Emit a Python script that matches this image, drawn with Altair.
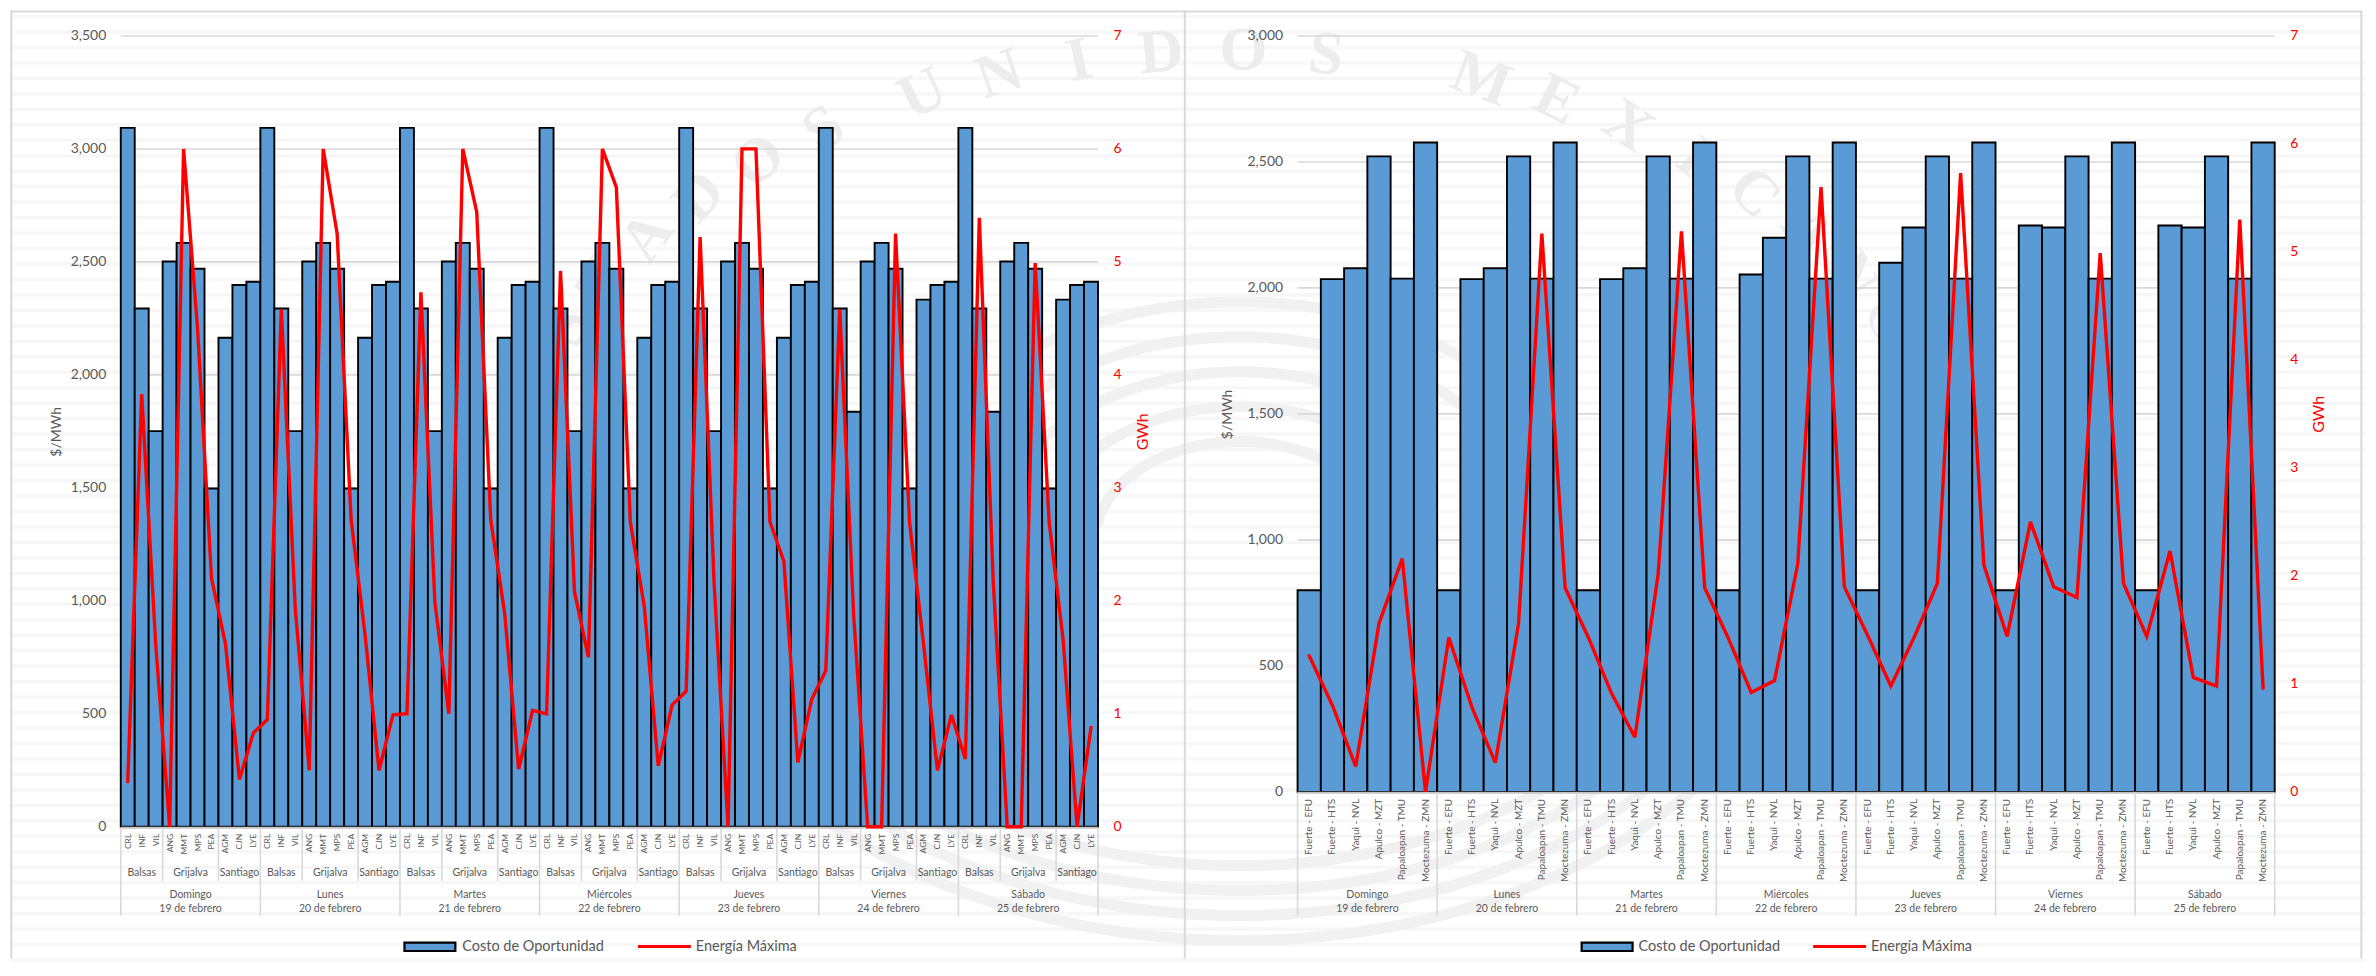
import math
import altair as alt
import pandas as pd

# ---------------- data ----------------
days = ["Domingo", "Lunes", "Martes", "Miércoles", "Jueves", "Viernes", "Sábado"]
dates = ["19 de febrero", "20 de febrero", "21 de febrero", "22 de febrero",
         "23 de febrero", "24 de febrero", "25 de febrero"]

left_codes = ["CRL", "INF", "VIL", "ANG", "MMT", "MPS", "PEA", "AGM", "CJN", "LYE"]
left_groups = [("Balsas", 3), ("Grijalva", 4), ("Santiago", 3)]
left_cost_a = [3093, 2294, 1751, 2502, 2584, 2470, 1497, 2164, 2398, 2412]
left_cost_b = [3093, 2294, 1837, 2502, 2584, 2470, 1497, 2333, 2398, 2412]
left_cost = [left_cost_a] * 5 + [left_cost_b] * 2
left_gwh = [
    0.40, 3.83, 1.62, 0.00, 6.00, 4.41, 2.20, 1.62, 0.42, 0.83,
    0.95, 4.58, 1.93, 0.50, 6.00, 5.25, 2.72, 1.70, 0.50, 0.99,
    1.00, 4.73, 1.99, 1.00, 6.00, 5.44, 2.72, 1.89, 0.51, 1.03,
    1.00, 4.92, 2.08, 1.50, 6.00, 5.66, 2.70, 1.95, 0.54, 1.08,
    1.20, 5.22, 2.16, 0.00, 6.00, 6.00, 2.70, 2.35, 0.57, 1.13,
    1.38, 4.58, 1.87, 0.00, 0.00, 5.25, 2.70, 1.62, 0.50, 0.99,
    0.60, 5.39, 2.16, 0.00, 0.00, 4.99, 2.70, 1.66, 0.00, 0.88,
]

right_codes = ["Fuerte - EFU", "Fuerte - HTS", "Yaqui - NVL", "Apulco - MZT",
               "Papaloapan - TMU", "Moctezuma - ZMN"]
right_cost = [
    [800, 2035, 2078, 2522, 2037, 2577],
    [800, 2035, 2078, 2522, 2037, 2577],
    [800, 2035, 2078, 2522, 2037, 2577],
    [800, 2053, 2199, 2522, 2037, 2577],
    [800, 2100, 2240, 2522, 2037, 2577],
    [800, 2248, 2240, 2522, 2037, 2577],
    [800, 2248, 2240, 2522, 2037, 2577],
]
right_gwh = [
    1.26, 0.80, 0.235, 1.56, 2.16, 0.00,
    1.43, 0.78, 0.27, 1.56, 5.17, 1.89,
    1.43, 0.91, 0.505, 2.02, 5.19, 1.89,
    1.43, 0.92, 1.03, 2.11, 5.60, 1.90,
    1.45, 0.98, 1.43, 1.93, 5.73, 2.10,
    1.44, 2.50, 1.90, 1.80, 4.99, 1.93,
    1.44, 2.23, 1.06, 0.98, 5.30, 0.96,
]

seal_words = ["ESTADOS", "UNIDOS", "MEXICANOS"]

# ---------------- style / layout ----------------
FONT = "Lato"
GRAY = "#595959"
GRID = "#d9d9d9"
BLUE = "#5b9bd5"
RED = "#ff0000"
TOP = 33.5
L_X0, L_X1 = 118.7, 1098.0
R_X0, R_X1 = 1297.3, 2276.5
L_H = 792.5
R_H = 757.5


def build_rows(codes, cost, gwh):
    rows, n = [], len(codes)
    for d in range(len(days)):
        for c in range(n):
            i = d * n + c
            rows.append(dict(start=i, end=i + 1, mid=i + 0.5, code=codes[c],
                             cost=cost[d][c], gwh=gwh[i]))
    return pd.DataFrame(rows)


def panel(codes, cost, gwh, groups, abs_x0, abs_x1, height, y_max, tick_size,
          tick_top, label_pad, title_pad, extra_layers, legend_x):
    n = len(codes)
    total = n * len(days)
    width = abs_x1 - abs_x0
    df = build_rows(codes, cost, gwh)
    xs = alt.Scale(domain=[0, total], nice=False, zero=False)
    cs = alt.Scale(domain=[0, y_max], nice=False)
    gs = alt.Scale(domain=[0, 7], nice=False)
    X = lambda f: alt.X(f, type="quantitative", scale=xs, axis=None)
    px = lambda v: alt.value(v - abs_x0)
    py = lambda v: alt.value(v - TOP)
    base_y = height

    grid = alt.Chart(pd.DataFrame({"g": list(range(500, y_max + 1, 500))})).mark_rule(
        color=GRID, strokeWidth=1.6
    ).encode(x=alt.value(0), x2=alt.value(width),
             y=alt.Y("g:Q", scale=cs, axis=None))

    bars = alt.Chart(df).mark_rect(fill=BLUE, stroke="#000000", strokeWidth=1.9).encode(
        x=X("start"), x2="end",
        y=alt.Y("cost:Q", scale=cs, axis=alt.Axis(
            title="$/MWh", values=list(range(0, y_max + 1, 500)), format=",.0f",
            grid=False, domain=False, ticks=False, labelFont=FONT, labelFontSize=14,
            labelColor=GRAY, labelPadding=label_pad, titleFont=FONT, titleFontSize=14,
            titleColor=GRAY, titleFontWeight="normal", titlePadding=title_pad,
            minExtent=10, zindex=1)),
        y2=alt.datum(0),
    )

    baseline = alt.Chart(pd.DataFrame({"b": [0]})).mark_rule(
        color="#c4c4c4", strokeWidth=2
    ).encode(x=alt.value(0), x2=alt.value(width), y=alt.value(base_y + 1))

    # multi-level category axis
    day_edges = pd.DataFrame({"e": [d * n for d in range(len(days) + 1)]})
    day_sep = alt.Chart(day_edges).mark_rule(color=GRID, strokeWidth=1.6).encode(
        x=X("e"), y=alt.value(base_y + 1), y2=py(915))

    ticks = alt.Chart(df).mark_text(
        angle=270, align="right", baseline="middle", font=FONT,
        fontSize=tick_size, color=GRAY
    ).encode(x=X("mid"), y=py(tick_top), text="code:N")

    day_rows = pd.DataFrame({"mid": [(d + 0.5) * n for d in range(len(days))],
                             "day": days, "date": dates})
    day_txt = alt.Chart(day_rows).mark_text(font=FONT, fontSize=10.5, color=GRAY).encode(
        x=X("mid"), y=py(894.7), text="day:N")
    date_txt = alt.Chart(day_rows).mark_text(font=FONT, fontSize=10.5, color=GRAY).encode(
        x=X("mid"), y=py(908), text="date:N")

    layers = [grid, bars, baseline, day_sep, ticks, day_txt, date_txt]

    if groups:
        grp_rows, edge_rows = [], []
        for d in range(len(days)):
            pos = d * n
            for name, size in groups:
                grp_rows.append(dict(mid=pos + size / 2, name=name))
                if pos != d * n:
                    edge_rows.append(dict(e=pos))
                pos += size
        grp_txt = alt.Chart(pd.DataFrame(grp_rows)).mark_text(
            font=FONT, fontSize=10.5, color=GRAY
        ).encode(x=X("mid"), y=py(872.7), text="name:N")
        grp_sep = alt.Chart(pd.DataFrame(edge_rows)).mark_rule(
            color=GRID, strokeWidth=1.6
        ).encode(x=X("e"), y=alt.value(base_y + 1), y2=py(880))
        layers += [grp_sep, grp_txt]

    line = alt.Chart(df).mark_line(
        color=RED, strokeWidth=3.4, strokeJoin="miter", strokeMiterLimit=3, strokeCap="round"
    ).encode(
        x=X("mid"),
        y=alt.Y("gwh:Q", scale=gs, axis=alt.Axis(
            orient="right", title="GWh", values=list(range(0, 8)), grid=False,
            domain=False, ticks=False, labelFont=FONT, labelFontSize=14,
            labelColor=RED, labelPadding=15, titleFont=FONT, titleFontSize=16,
            titleColor=RED, titleFontWeight="normal", titlePadding=29, titleAngle=270,
            titleBaseline="bottom", minExtent=10, zindex=1)),
        order="start:Q",
    )
    layers.append(line)

    # legend
    one = pd.DataFrame({"k": [0]})
    lx = legend_x
    swatch = alt.Chart(one).mark_rect(fill=BLUE, stroke="#000000", strokeWidth=2.2).encode(
        x=px(lx[0]), x2=px(lx[0] + 51), y=py(942), y2=py(950.5))
    red_key = alt.Chart(one).mark_rule(color=RED, strokeWidth=3).encode(
        x=px(lx[2]), x2=px(lx[2] + 53), y=py(946))
    leg1 = alt.Chart(pd.DataFrame({"t": ["Costo de Oportunidad"]})).mark_text(
        align="left", baseline="middle", font=FONT, fontSize=14.5, color=GRAY
    ).encode(x=px(lx[1]), y=py(946), text="t:N")
    leg2 = alt.Chart(pd.DataFrame({"t": ["Energía Máxima"]})).mark_text(
        align="left", baseline="middle", font=FONT, fontSize=14.5, color=GRAY
    ).encode(x=px(lx[3]), y=py(946), text="t:N")
    layers += [swatch, leg1, red_key, leg2]

    return alt.layer(*extra_layers, *layers).resolve_scale(y="independent").properties(
        width=width, height=height)


# ---------------- page decoration (drawn behind the left panel, spans the page) ----------------
ox, oy = L_X0, TOP
stripe_rows = pd.DataFrame({"py": [14 + 15.5 * k - oy for k in range(62)]})
stripes = alt.Chart(stripe_rows).mark_rule(color="#f6f7f6", strokeWidth=3.6).encode(
    x=alt.value(8 - ox), x2=alt.value(2368 - ox), y=alt.Y("py:Q", scale=None))

letters, t = [], -74.0
for word, gap in zip(seal_words, (2.5, 6.2, 0.0)):
    for ch in word:
        rad = math.radians(t)
        letters.append(dict(ch=ch, px=1230 + 720 * math.sin(rad) - ox,
                            py=498 - 450 * math.cos(rad) - oy, ang=(t + 360) % 360))
        t += 6.6
    t += gap
seal = alt.Chart(pd.DataFrame(letters)).mark_text(
    font="Liberation Serif", fontWeight="bold", fontSize=62, color="#ededed",
    baseline="middle", align="center"
).encode(x=alt.X("px:Q", scale=None), y=alt.Y("py:Q", scale=None),
         text="ch:N", angle=alt.Angle("ang:Q", scale=None))

# curved bands of the faint seal (wing arcs above, wreath below)
bands = []
for ring, (r, a0, a1) in enumerate([(240, -40, 60), (205, -50, 55), (170, -60, 50), (135, -70, 45),
                                    (100, -80, 40), (400, 125, 235), (375, 130, 230),
                                    (350, 135, 225), (325, 140, 220)]):
    for step in range(41):
        deg = a0 + (a1 - a0) * step / 40
        rad = math.radians(deg)
        bands.append(dict(ring=ring, step=step, x=1240 + 1.45 * r * math.sin(rad) - ox,
                          y=540 - r * math.cos(rad) - oy))
band = alt.Chart(pd.DataFrame(bands)).mark_line(
    color="#f1f1f1", strokeWidth=11, strokeCap="round"
).encode(x=alt.X("x:Q", scale=None), y=alt.Y("y:Q", scale=None),
         detail="ring:N", order="step:Q")

one_row = pd.DataFrame({"k": [0]})
frame_kw = dict(color="#d9d9d9", strokeWidth=2)
frame_top = alt.Chart(one_row).mark_rule(**frame_kw).encode(
    x=alt.value(8 - ox), x2=alt.value(2364 - ox), y=alt.value(9 - oy))
frame_verticals = [
    alt.Chart(one_row).mark_rule(**frame_kw).encode(
        x=alt.value(v - ox), y=alt.value(8 - oy), y2=alt.value(958 - oy))
    for v in (9, 1185, 2364)
]
backdrop = [stripes, band, seal, frame_top, *frame_verticals]

left = panel(left_codes, left_cost, left_gwh, left_groups, L_X0, L_X1, L_H, 3500,
             8.5, 833, 15, 7, backdrop, (403, 461, 637, 695))
right = panel(right_codes, right_cost, right_gwh, None, R_X0, R_X1, R_H, 3000,
              10, 798, 15, 13, [], (1582, 1639, 1814, 1872))

chart = alt.hconcat(left, right, spacing=R_X0 - L_X1, bounds="flush").properties(
    padding=0).configure_view(stroke=None)

chart.save("out.html", embed_options={"renderer": "svg", "actions": False})
